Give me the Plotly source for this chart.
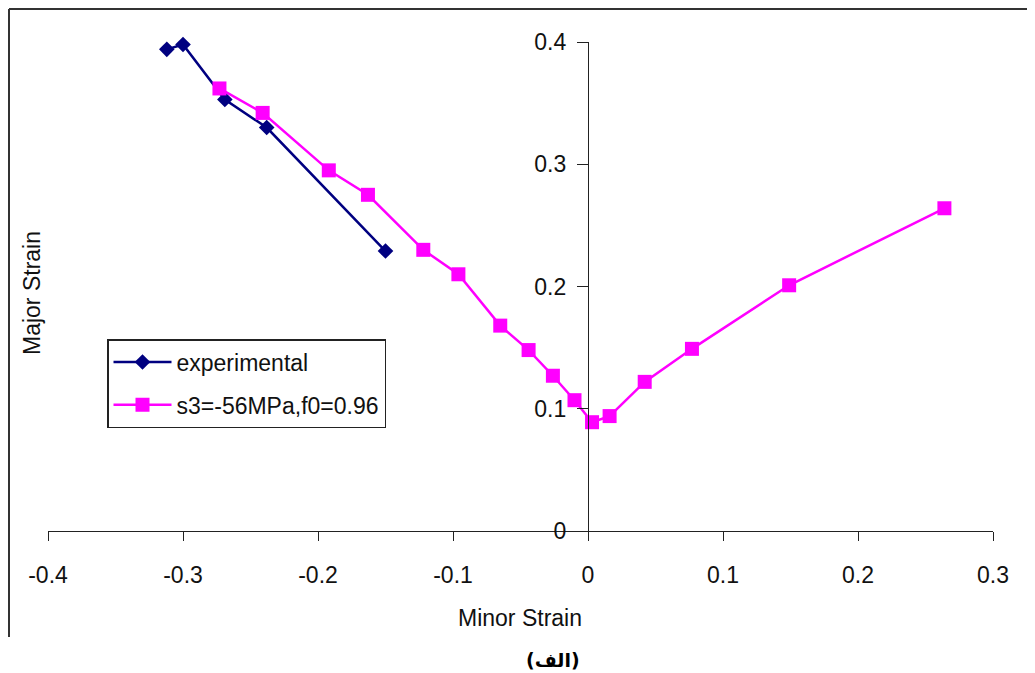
import plotly.graph_objects as go

# Experimental data (minor strain, major strain)
exp_minor = [-0.312, -0.300, -0.269, -0.238, -0.150]
exp_major = [0.394, 0.398, 0.353, 0.330, 0.229]

# Model prediction s3=-56MPa, f0=0.96
sim_minor = [-0.273, -0.241, -0.192, -0.163, -0.122, -0.096, -0.065, -0.044,
             -0.026, -0.010, 0.003, 0.016, 0.042, 0.077, 0.149, 0.264]
sim_major = [0.362, 0.342, 0.295, 0.275, 0.230, 0.210, 0.168, 0.148,
             0.127, 0.107, 0.089, 0.094, 0.122, 0.149, 0.201, 0.264]

x_ticks = [-0.4, -0.3, -0.2, -0.1, 0, 0.1, 0.2, 0.3]
x_tick_labels = ["-0.4", "-0.3", "-0.2", "-0.1", "0", "0.1", "0.2", "0.3"]
y_ticks = [0, 0.1, 0.2, 0.3, 0.4]
y_tick_labels = ["0", "0.1", "0.2", "0.3", "0.4"]

FONT = "Liberation Sans, Arial, sans-serif"
FS = 23

fig = go.Figure()
fig.add_trace(go.Scatter(
    x=exp_minor, y=exp_major, mode="lines+markers", name="experimental",
    legendgroup="a",
    line=dict(color="#000080", width=2.5),
    marker=dict(symbol="diamond", size=12, color="#000080"),
    cliponaxis=False,
))
fig.add_trace(go.Scatter(
    x=sim_minor, y=sim_major, mode="lines+markers", name="s3=-56MPa,f0=0.96",
    legendgroup="b",
    line=dict(color="#FF00FF", width=2.5),
    marker=dict(symbol="square", size=14, color="#FF00FF"),
    cliponaxis=False,
))

# page has an 8px body margin; positions below are in screen pixels
OFF = 8
W, H = 1035 - OFF, 673 - OFF
PL, PR, PT, PB = 48, 993, 42, 531  # plot area in screen px
L, R, T, B = PL - OFF, (W + OFF) - PR, PT - OFF, (H + OFF) - PB
pw, ph = PR - PL, PB - PT

def px_x(p):
    return (p - PL) / pw

def px_y(p):
    return (PB - p) / ph

fig.update_layout(
    width=W, height=H,
    margin=dict(l=L, r=R, t=T, b=B),
    paper_bgcolor="white", plot_bgcolor="white",
    font=dict(family=FONT, size=FS, color="#111111"),
    showlegend=True,
    legend=dict(
        x=px_x(107), y=px_y(339), xanchor="left", yanchor="top",
        bordercolor="#222222", borderwidth=1.5, bgcolor="white",
        font=dict(family=FONT, size=FS, color="#111111"),
        tracegroupgap=10, itemwidth=58,
    ),
    xaxis=dict(
        range=[-0.4, 0.3], tickvals=x_ticks, ticktext=x_tick_labels,
        showgrid=False, zeroline=False, showline=True, linecolor="#222222",
        linewidth=1.2, ticks="outside", ticklen=9, tickcolor="#222222",
        ticklabelstandoff=14, domain=[0, 1],
    ),
    yaxis=dict(
        range=[0, 0.4], tickvals=y_ticks, ticktext=y_tick_labels,
        showgrid=False, zeroline=False, showline=True, linecolor="#222222",
        linewidth=1.2, ticks="outside", ticklen=11, tickcolor="#222222",
        ticklabelstandoff=6,
        anchor="free", position=0.4 / 0.7, domain=[0, 1],
    ),
)

# chart-area frame (left and top edges)
fig.add_shape(type="line", xref="paper", yref="paper",
              x0=px_x(9), x1=px_x(9), y0=px_y(9), y1=px_y(637),
              line=dict(color="#333333", width=2))
fig.add_shape(type="line", xref="paper", yref="paper",
              x0=px_x(9), x1=px_x(1040), y0=px_y(9), y1=px_y(9),
              line=dict(color="#333333", width=2))

fig.add_annotation(text="Major Strain", xref="paper", yref="paper",
                   x=px_x(32), y=px_y(293), textangle=-90, showarrow=False,
                   xanchor="center", yanchor="middle",
                   font=dict(family=FONT, size=FS, color="#111111"))
fig.add_annotation(text="Minor Strain", xref="paper", yref="paper",
                   x=px_x(520), y=px_y(618), showarrow=False,
                   xanchor="center", yanchor="middle",
                   font=dict(family=FONT, size=FS, color="#111111"))
fig.add_annotation(text="<b>(الف)</b>", xref="paper", yref="paper",
                   x=px_x(553), y=px_y(660), showarrow=False,
                   xanchor="center", yanchor="middle",
                   font=dict(family="DejaVu Sans, sans-serif", size=19, color="#000000"))

fig.write_html("out.html")
